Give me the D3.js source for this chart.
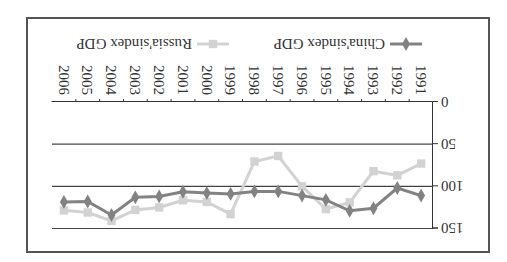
<!DOCTYPE html>
<html>
<head>
<meta charset="utf-8">
<script src="https://cdn.jsdelivr.net/npm/d3@7"></script>
<style>
  body { margin: 0; background: #fff; }
  svg { display: block; }
  text { font-family: "Liberation Serif", "DejaVu Serif", serif; fill: #333; }
</style>
</head>
<body>
<div id="chart"></div>
<script>
var years = ['1991', '1992', '1993', '1994', '1995', '1996', '1997', '1998',
             '1999', '2000', '2001', '2002', '2003', '2004', '2005', '2006'];
var china = [111, 102, 126, 129, 116, 111, 106, 106, 109, 108, 106.5, 112, 113, 134, 118, 118.5];
var russia = [73, 87, 82, 119, 127, 100, 64, 70.5, 133, 118.5, 116.5, 125, 128, 141, 131, 128.5];
var yTicks = [0, 50, 100, 150];
var names = ["China'sindex GDP", "Russia'sindex GDP"];

var width = 507,
    height = 262;

var svg = d3.select('#chart')
            .append('svg')
            .attr('width', width)
            .attr('height', height);

// the scan is upside down, so draw normally and turn it round
var g = svg.append('g')
           .attr('transform', 'rotate(180,' + width / 2 + ',' + height / 2 + ')');

g.append('rect')
 .attr('x', 18)
 .attr('y', 10)
 .attr('width', 462)
 .attr('height', 234)
 .attr('fill', '#fff')
 .attr('stroke', '#555')
 .attr('stroke-width', 2);

var x = d3.scaleBand()
          .domain(years)
          .range([74, 455]);

var y = d3.scaleLinear()
          .domain([0, 150])
          .range([160, 33.5]);

// gridlines
g.selectAll('.grid')
 .data(yTicks.slice(1))
 .enter()
 .append('line')
 .attr('x1', 74)
 .attr('x2', 455)
 .attr('y1', function(d) { return y(d); })
 .attr('y2', function(d) { return y(d); })
 .attr('stroke', '#444')
 .attr('stroke-width', 1.2);

var yAxis = g.append('g')
             .attr('transform', 'translate(74,0)')
             .call(d3.axisLeft(y).tickValues(yTicks).tickSize(5).tickPadding(3));
yAxis.selectAll('text').style('font-size', '15px').attr('fill', '#333');
yAxis.selectAll('path, line').attr('stroke', '#333');

var xAxis = g.append('g')
             .attr('transform', 'translate(0,' + y(0) + ')')
             .call(d3.axisBottom(x).tickSize(0).tickPadding(0));
xAxis.select('.domain').attr('stroke', '#333');
xAxis.selectAll('text')
     .style('font-size', '15px')
     .attr('fill', '#333')
     .attr('text-anchor', 'end')
     .attr('dy', '0.35em')
     .attr('transform', 'translate(0,7) rotate(-90)');

// ticks between categories
g.selectAll('.xtick')
 .data(years.slice(1))
 .enter()
 .append('line')
 .attr('x1', function(d) { return x(d); })
 .attr('x2', function(d) { return x(d); })
 .attr('y1', y(0))
 .attr('y2', y(0) + 3)
 .attr('stroke', '#333');

var line = d3.line()
             .x(function(d, i) { return x(years[i]) + x.bandwidth() / 2; })
             .y(function(d) { return y(d); });

g.append('path')
 .datum(russia)
 .attr('d', line)
 .attr('fill', 'none')
 .attr('stroke', '#d2d2d2')
 .attr('stroke-width', 3);

g.selectAll('.rmark')
 .data(russia)
 .enter()
 .append('path')
 .attr('d', d3.symbol(d3.symbolSquare, 70))
 .attr('transform', function(d, i) {
   return 'translate(' + (x(years[i]) + x.bandwidth() / 2) + ',' + y(d) + ')';
 })
 .attr('fill', '#d2d2d2');

g.append('path')
 .datum(china)
 .attr('d', line)
 .attr('fill', 'none')
 .attr('stroke', '#828282')
 .attr('stroke-width', 3);

g.selectAll('.cmark')
 .data(china)
 .enter()
 .append('path')
 .attr('d', d3.symbol(d3.symbolDiamond, 55))
 .attr('transform', function(d, i) {
   return 'translate(' + (x(years[i]) + x.bandwidth() / 2) + ',' + y(d) + ')';
 })
 .attr('fill', '#828282');

// legend
var legend = [
  {name: names[0], color: '#828282', sym: d3.symbolDiamond, size: 55, x: 85},
  {name: names[1], color: '#d2d2d2', sym: d3.symbolSquare, size: 70, x: 278}
];
var lg = g.selectAll('.legend')
          .data(legend)
          .enter()
          .append('g')
          .attr('transform', function(d) { return 'translate(' + d.x + ',218)'; });
lg.append('line')
  .attr('x1', 0).attr('x2', 32)
  .attr('stroke', function(d) { return d.color; })
  .attr('stroke-width', 3);
lg.append('path')
  .attr('d', function(d) { return d3.symbol(d.sym, d.size)(); })
  .attr('transform', 'translate(16,0)')
  .attr('fill', function(d) { return d.color; });
lg.append('text')
  .attr('x', 37)
  .attr('dy', '0.35em')
  .style('font-size', '15px')
  .text(function(d) { return d.name; });
</script>
</body>
</html>
